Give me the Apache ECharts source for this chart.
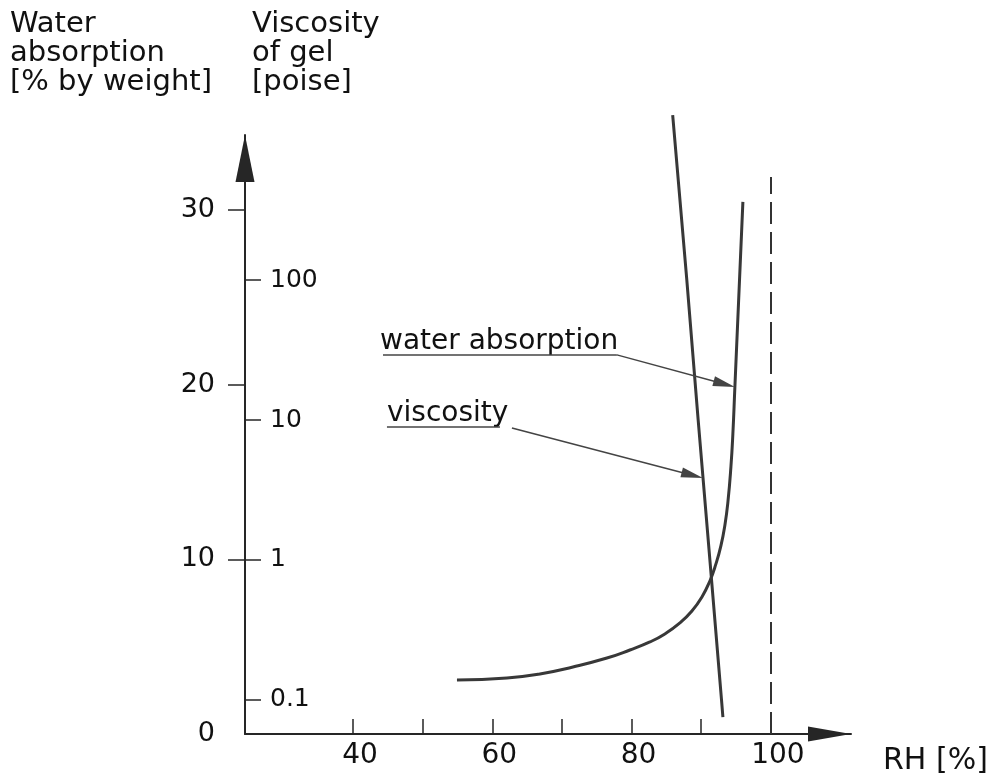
<!DOCTYPE html>
<html>
<head>
<meta charset="utf-8">
<script src="https://cdn.jsdelivr.net/npm/echarts@6/dist/echarts.min.js"></script>
<style>html,body{margin:0;padding:0;background:#fff}#c{width:992px;height:781px}</style>
</head>
<body>
<div id="c"></div>
<script>
// ---- data ----
var waterRH = [54.93, 62.11, 66.84, 71.58, 76.46, 79.76, 82.63, 84.78, 86.94, 88.66, 90.10, 91.24, 92.11, 92.82, 93.40, 93.83, 94.26, 94.54, 94.83, 95.98];
var waterAbs = [3.09, 3.21, 3.44, 3.84, 4.35, 4.81, 5.27, 5.73, 6.36, 7.04, 7.85, 8.76, 9.74, 10.77, 11.97, 13.29, 15.29, 17.18, 19.87, 30.47];
var viscRH = [85.90, 87.93, 89.56, 91.24, 92.91, 93.11];
var viscPoise = [1507, 100, 10, 1, 0.1, 0.0755];
var xTickValues = [40, 50, 60, 70, 80, 90];
var xLabelValues = [40, 60, 80, 100];
var leftTickValues = [10, 20, 30];
var leftLabelValues = [0, 10, 20, 30];
var viscLabelValues = [0.1, 1, 10, 100];
var saturationRH = 100;

var FONT = "'DejaVu Sans', sans-serif";
var INK = '#262626';
var CURVE = '#383838';

var waterData = waterRH.map(function (x, i) { return [x, waterAbs[i]]; });
var viscData = viscRH.map(function (x, i) { return [x, Math.log10(viscPoise[i])]; });
var viscLogLabels = viscLabelValues.map(function (v) { return Math.log10(v); });

var chart = echarts.init(document.getElementById('c'), null, { renderer: 'canvas' });
chart.setOption({
  animation: false,
  backgroundColor: '#fff',
  grid: { left: 245, right: 141, top: 135, bottom: 47, containLabel: false, outerBoundsMode: 'none' },
  xAxis: {
    type: 'value', min: 24.5, max: 111.5,
    axisLine: { show: true, lineStyle: { color: INK, width: 2 }, symbol: ['none', 'triangle'], symbolSize: [15, 43], symbolOffset: [0, -21.5] },
    axisTick: { show: true, inside: true, length: 15, customValues: xTickValues, lineStyle: { color: INK, width: 1.5 } },
    axisLabel: { show: true, customValues: xLabelValues, margin: 8, color: '#111', fontSize: 28, fontFamily: FONT, padding: [0, 0, 0, 14] },
    splitLine: { show: false }
  },
  yAxis: [
    {
      type: 'value', min: 0, max: 34.3, position: 'left',
      axisLine: { show: true, lineStyle: { color: INK, width: 2 }, symbol: ['none', 'triangle'], symbolSize: [19, 47], symbolOffset: [0, -23.5] },
      axisTick: { show: true, inside: false, length: 17, customValues: leftTickValues, lineStyle: { color: INK, width: 1.5 } },
      axisLabel: { show: true, customValues: leftLabelValues, margin: 30, color: '#111', fontSize: 27, fontFamily: FONT },
      splitLine: { show: false }
    },
    {
      type: 'value', min: -1.243, max: 3.036, position: 'left', offset: 0,
      axisLine: { show: false },
      axisTick: { show: true, inside: true, length: 16, customValues: viscLogLabels, lineStyle: { color: INK, width: 1.5 } },
      axisLabel: {
        show: true, inside: true, margin: 25, customValues: viscLogLabels, color: '#111', fontSize: 25, fontFamily: FONT,
        formatter: function (v) { return String(Math.round(Math.pow(10, v) * 10) / 10); }
      },
      splitLine: { show: false }
    }
  ],
  series: [
    {
      name: 'water absorption', type: 'line', xAxisIndex: 0, yAxisIndex: 0,
      data: waterData, smooth: 0.5, showSymbol: false, clip: false,
      lineStyle: { color: CURVE, width: 3 },
      markLine: {
        silent: true, animation: false, label: { show: false },
        lineStyle: { color: '#444', width: 1.5, type: 'solid' },
        data: [
          [{ coord: [saturationRH, 0], symbol: 'none', lineStyle: { type: [22, 8], width: 2, color: '#333' } }, { coord: [saturationRH, 31.9], symbol: 'none' }],
          [{ coord: [44.31, 21.71], symbol: 'none' }, { coord: [77.89, 21.71], symbol: 'none' }],
          [{ coord: [77.89, 21.71], symbol: 'none' }, { coord: [93.31, 20.04], symbol: 'triangle', symbolSize: [10, 22] }]
        ]
      }
    },
    {
      name: 'viscosity', type: 'line', xAxisIndex: 0, yAxisIndex: 1,
      data: viscData, smooth: false, showSymbol: false, clip: false,
      lineStyle: { color: CURVE, width: 3 },
      markLine: {
        silent: true, animation: false, label: { show: false },
        lineStyle: { color: '#444', width: 1.5, type: 'solid' },
        data: [
          [{ coord: [44.88, 0.950], symbol: 'none' }, { coord: [61.1, 0.950], symbol: 'none' }],
          [{ coord: [62.82, 0.943], symbol: 'none' }, { coord: [88.72, 0.606], symbol: 'triangle', symbolSize: [10, 22] }]
        ]
      }
    }
  ],
  graphic: [
    { type: 'text', left: 10, top: 10, style: { text: 'Water\nabsorption\n[% by weight]', font: '29px ' + FONT, fill: '#111', lineHeight: 29 } },
    { type: 'text', left: 252, top: 10, style: { text: 'Viscosity\nof gel\n[poise]', font: '29px ' + FONT, fill: '#111', lineHeight: 29 } },
    { type: 'text', left: 380, top: 328, style: { text: 'water absorption', font: '28px ' + FONT, fill: '#111' } },
    { type: 'text', left: 387, top: 400, style: { text: 'viscosity', font: '28px ' + FONT, fill: '#111' } },
    { type: 'text', left: 883, top: 746, style: { text: 'RH [%]', font: '30px ' + FONT, fill: '#111' } }
  ]
});
</script>
</body>
</html>
